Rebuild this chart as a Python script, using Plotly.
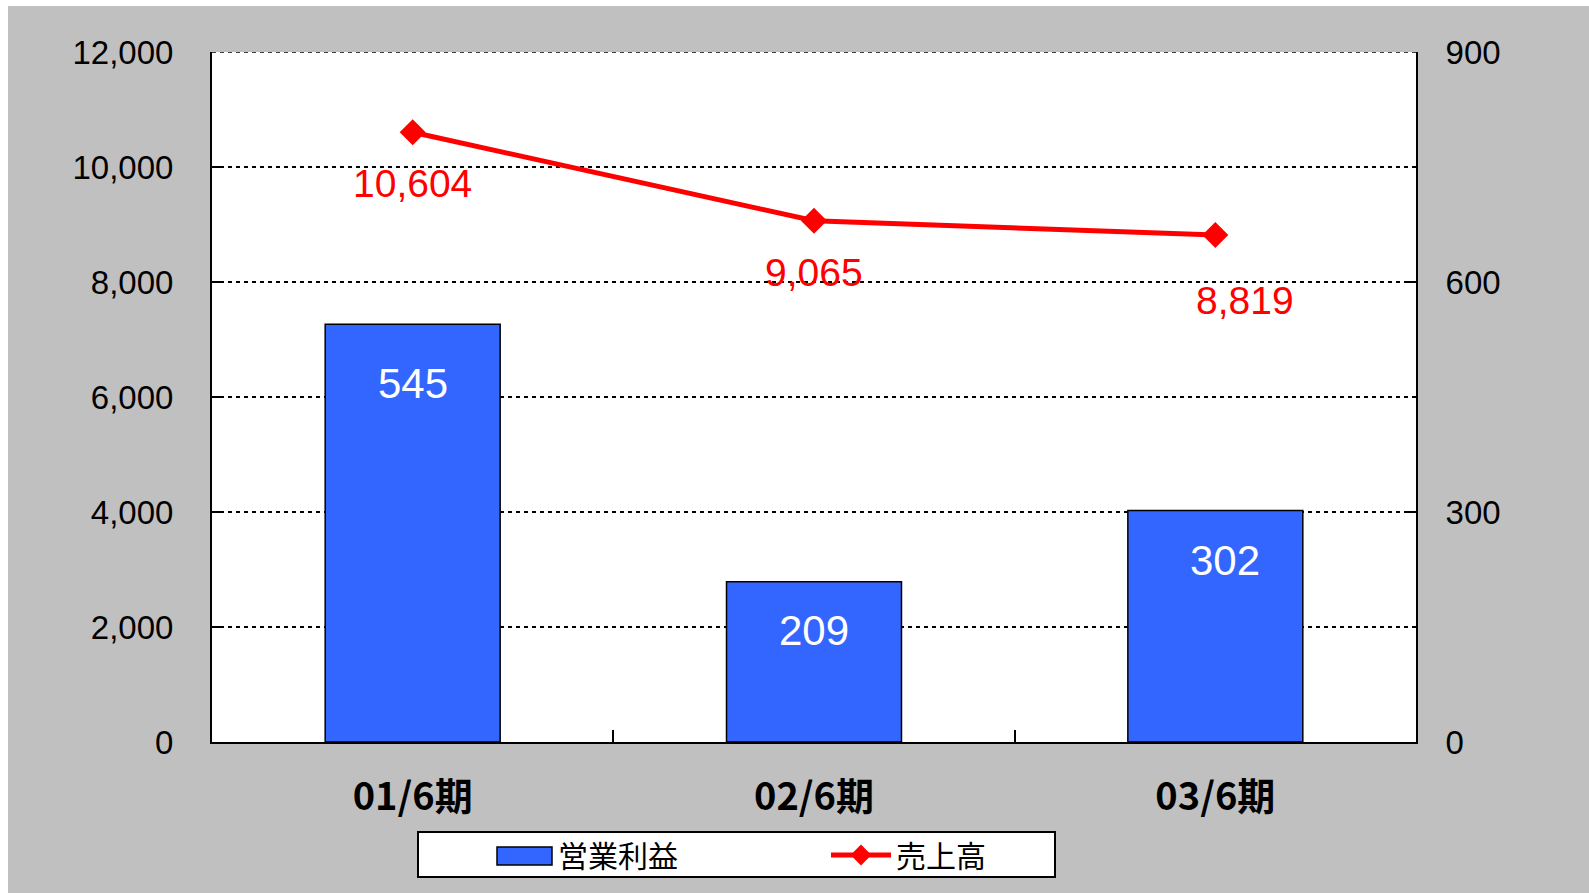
import plotly.graph_objects as go

categories = ["01/6期", "02/6期", "03/6期"]
operating_profit = [545, 209, 302]      # 営業利益 (right axis)
sales = [10604, 9065, 8819]             # 売上高 (left axis)
left_ticks = [0, 2000, 4000, 6000, 8000, 10000, 12000]
right_ticks = [0, 300, 600, 900]

BLUE = "#3366FF"
RED = "#FF0000"
ARIAL = "Liberation Sans, Arial, sans-serif"
TICK_FONT = dict(family=ARIAL, size=33, color="black")

fig = go.Figure()
# legend-only entry for the bar series (swatch is enlarged with a shape below)
fig.add_trace(go.Bar(
    x=[None], y=[None], name="営業利益", yaxis="y", hoverinfo="skip",
    marker=dict(color=BLUE, line=dict(color=BLUE, width=0)),
))
fig.add_trace(go.Bar(
    x=categories, y=operating_profit, name="営業利益", yaxis="y2",
    width=0.436, showlegend=False,
    marker=dict(color=BLUE, line=dict(color="black", width=1.5)),
))
fig.add_trace(go.Scatter(
    x=categories, y=sales, name="売上高", yaxis="y",
    mode="lines+markers",
    line=dict(color=RED, width=5),
    marker=dict(symbol="diamond", size=20, color=RED),
))

# data labels (offsets are styling only)
line_label_shift = [(0, -51), (0, -52), (30, -66)]
bar_label_shift = [(0, -59), (0, -49), (10, -50)]
annotations = []
for c, v, (dx, dy) in zip(categories, sales, line_label_shift):
    annotations.append(dict(
        x=c, y=v, xref="x", yref="y", text=f"{v:,}", showarrow=False,
        xshift=dx, yshift=dy, yanchor="middle",
        font=dict(family=ARIAL, size=39, color=RED),
    ))
for c, v, (dx, dy) in zip(categories, operating_profit, bar_label_shift):
    annotations.append(dict(
        x=c, y=v, xref="x", yref="y2", text=f"{v:,}", showarrow=False,
        xshift=dx, yshift=dy, yanchor="middle",
        font=dict(family=ARIAL, size=42, color="white"),
    ))

# plot area in px: x 212..1416, y 52..742
L, R, T, B = 212, 1416, 52, 742
W, H = 1589, 893
def px(xp):
    return (xp - L) / (R - L)
def py(yp):
    return (B - yp) / (B - T)

shapes = [
    # white page strips at left and top
    dict(type="rect", xref="paper", yref="paper", x0=px(-5), x1=px(8), y0=py(H + 5), y1=py(-5),
         fillcolor="white", line=dict(width=0), layer="above"),
    dict(type="rect", xref="paper", yref="paper", x0=px(-5), x1=px(W + 5), y0=py(6), y1=py(-5),
         fillcolor="white", line=dict(width=0), layer="above"),
    # top gridline at 12,000
    dict(type="line", xref="paper", yref="y", x0=0, x1=1, y0=12000, y1=12000,
         line=dict(color="black", width=1.5, dash="4px,4px"), layer="above"),
    # legend frame
    dict(type="rect", xref="paper", yref="paper", x0=px(418), x1=px(1055), y0=py(877), y1=py(832),
         fillcolor="white", line=dict(color="black", width=2), layer="below"),
    # legend swatch for the bar series
    dict(type="rect", xref="paper", yref="paper", x0=px(497), x1=px(552), y0=py(865), y1=py(847),
         fillcolor=BLUE, line=dict(color="black", width=1.5), layer="above"),
]

fig.update_layout(
    width=W, height=H,
    margin=dict(l=L, r=W - R, t=T, b=H - B, pad=0),
    paper_bgcolor="#C0C0C0",
    plot_bgcolor="white",
    showlegend=True,
    bargap=0.564,
    annotations=annotations,
    shapes=shapes,
    legend=dict(
        orientation="h", xref="container", yref="container",
        x=488 / W, xanchor="left", y=1 - 855 / H, yanchor="middle",
        bgcolor="rgba(0,0,0,0)", borderwidth=0,
        font=dict(family="Noto Sans CJK JP", size=30, color="black"),
        itemwidth=60, entrywidth=263, entrywidthmode="pixels",
    ),
    xaxis=dict(
        type="category", categoryorder="array", categoryarray=categories,
        showline=True, linecolor="black", linewidth=2,
        ticks="inside", tickson="boundaries", ticklen=12, tickwidth=2, tickcolor="black",
        showgrid=False, zeroline=False, automargin=False,
        tickfont=dict(family="Noto Sans CJK JP", size=38, color="black", weight="bold"),
        ticklabelstandoff=20,
    ),
    yaxis=dict(
        range=[0, 12000], tickvals=left_ticks, tickformat=",",
        showline=True, linecolor="black", linewidth=2,
        ticks="inside", ticklen=10, tickwidth=2, tickcolor="black",
        showgrid=True, gridcolor="black", gridwidth=1.5, griddash="4px,4px",
        zeroline=False, automargin=False, tickfont=TICK_FONT, ticklabelstandoff=30,
    ),
    yaxis2=dict(
        range=[0, 900], tickvals=right_ticks, overlaying="y", side="right",
        showline=True, linecolor="black", linewidth=2,
        ticks="inside", ticklen=10, tickwidth=2, tickcolor="black",
        showgrid=False, zeroline=False, automargin=False, tickfont=TICK_FONT, ticklabelstandoff=21,
    ),
)

fig.write_html(
    "out.html",
    config={"displayModeBar": False},
    post_script="document.body.style.margin='0';document.body.style.overflow='hidden';",
)
